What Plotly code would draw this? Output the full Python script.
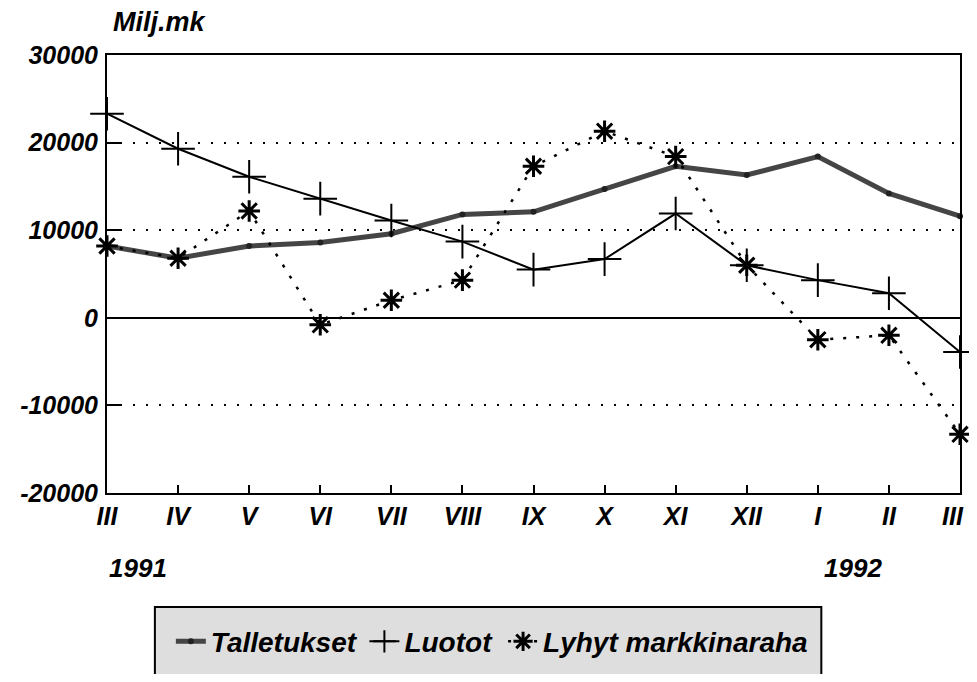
import plotly.graph_objects as go

months = ["III", "IV", "V", "VI", "VII", "VIII", "IX", "X", "XI", "XII", "I", "II", "III"]
talletukset = [8200, 6800, 8200, 8600, 9600, 11800, 12100, 14700, 17300, 16300, 18400, 14200, 11600]
luotot = [23300, 19300, 16100, 13600, 11100, 8700, 5500, 6700, 11900, 6000, 4300, 2800, -3900]
lyhyt = [8200, 6800, 12200, -800, 2000, 4300, 17300, 21300, 18400, 6000, -2500, -2000, -13300]
y_ticks = [-20000, -10000, 0, 10000, 20000, 30000]

x = list(range(len(months)))
FONT = "Liberation Sans"


def bi(size):
    return dict(family=FONT, size=size, color="black", weight="bold", style="italic")


fig = go.Figure()
fig.add_trace(go.Scatter(
    x=x, y=talletukset, name="Talletukset", mode="lines+markers", legend="legend",
    line=dict(color="#454545", width=5),
    marker=dict(symbol="circle", size=6, color="#222"),
    cliponaxis=False))
fig.add_trace(go.Scatter(
    x=x, y=luotot, name="Luotot", mode="lines+markers", legend="legend2",
    line=dict(color="black", width=2),
    marker=dict(symbol="cross-thin", size=24, line=dict(color="black", width=2)),
    cliponaxis=False))
fig.add_trace(go.Scatter(
    x=x, y=lyhyt, name="Lyhyt markkinaraha", mode="lines+markers", legend="legend3",
    line=dict(color="black", width=2.5, dash="3px,10px"),
    marker=dict(symbol="asterisk", size=18, line=dict(color="black", width=3)),
    cliponaxis=False))

# plot area in page pixels: x 107..962, y 55..497 (page body adds an 8px margin)
PX0, PX1, PY0, PY1 = 107.0, 962.0, 55.0, 497.0


def px(v):
    return (v - PX0) / (PX1 - PX0)


def py(v):
    return (PY1 - v) / (PY1 - PY0)


leg_common = dict(orientation="h", xanchor="left", yanchor="middle", y=py(647),
                  bgcolor="rgba(0,0,0,0)", borderwidth=0, font=bi(28),
                  itemwidth=30)

# the last month label sits on the right edge of the figure; it is drawn as an
# annotation nudged inwards so it is not hidden for overflowing the page
tick_text = months[:-1] + [""]

fig.update_layout(
    width=961, height=666,
    margin=dict(l=99, r=7, t=47, b=177),
    paper_bgcolor="white", plot_bgcolor="white",
    showlegend=True,
    legend=dict(x=px(171), **leg_common),
    legend2=dict(x=px(365), **leg_common),
    legend3=dict(x=px(504), **leg_common),
    xaxis=dict(
        range=[0, 12], tickmode="array", tickvals=x, ticktext=tick_text,
        ticks="inside", ticklen=8, tickwidth=1.5, tickcolor="black",
        showline=True, linecolor="black", linewidth=2, mirror=True,
        showgrid=False, zeroline=False, tickfont=bi(25),
    ),
    yaxis=dict(
        range=[-20000, 30000], tickmode="array", tickvals=y_ticks,
        ticktext=[str(v) for v in y_ticks],
        ticks="inside", ticklen=14, tickwidth=2, tickcolor="black",
        showline=True, linecolor="black", linewidth=2, mirror=True,
        showgrid=True, gridcolor="black", gridwidth=2, griddash="2px,11px",
        zeroline=True, zerolinecolor="black", zerolinewidth=2,
        tickfont=bi(25), ticklabelstandoff=2,
    ),
    shapes=[
        dict(type="rect", xref="paper", yref="paper", layer="below",
             x0=px(155), x1=px(823), y0=py(612), y1=py(700),
             fillcolor="#dedede", line=dict(color="black", width=2)),
    ],
    annotations=[
        dict(text=months[-1], xref="x", yref="paper", x=x[-1], y=py(520),
             xanchor="right", yanchor="middle", xshift=6, showarrow=False,
             font=bi(25)),
        dict(text="Milj.mk", xref="paper", yref="paper", x=px(160), y=py(22),
             xanchor="center", yanchor="middle", showarrow=False, font=bi(27)),
        dict(text="1991", xref="paper", yref="paper", x=px(138), y=py(573),
             xanchor="center", yanchor="middle", showarrow=False, font=bi(26)),
        dict(text="1992", xref="paper", yref="paper", x=px(855), y=py(573),
             xanchor="center", yanchor="middle", showarrow=False, font=bi(26)),
    ],
)

fig.write_html("out.html", config={"displayModeBar": False})
